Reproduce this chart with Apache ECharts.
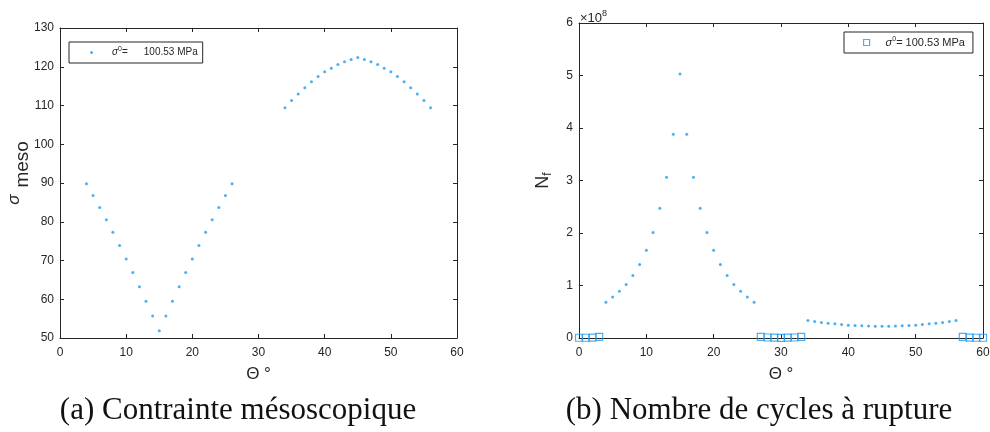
<!DOCTYPE html>
<html>
<head>
<meta charset="utf-8">
<script src="https://cdn.jsdelivr.net/npm/echarts@6/dist/echarts.min.js"></script>
<style>html,body{margin:0;padding:0;background:#fff;}#c{width:990px;height:432px;}</style>
</head>
<body>
<div id="c"></div>
<script>
// ---- data ----
const thetaTicks = [0, 10, 20, 30, 40, 50, 60];
const sigmaTicks = [50, 60, 70, 80, 90, 100, 110, 120, 130];
const nfTicks = [0, 1, 2, 3, 4, 5, 6]; // x 10^8

// (a) mesoscopic stress
const thetaA = [4,5,6,7,8,9,10,11,12,13,14,15,16,17,18,19,20,21,22,23,24,25,26];
const sigmaA = [89.8,86.8,83.7,80.5,77.3,73.9,70.4,66.9,63.2,59.5,55.7,51.9,55.7,59.5,63.2,66.9,70.4,73.9,77.3,80.5,83.7,86.8,89.8];
const thetaB = [34,35,36,37,38,39,40,41,42,43,44,45,46,47,48,49,50,51,52,53,54,55,56];
const sigmaB = [109.4,111.3,113.0,114.6,116.1,117.5,118.7,119.6,120.6,121.3,121.9,122.4,121.9,121.3,120.6,119.6,118.7,117.5,116.1,114.6,113.0,111.3,109.4];

// (b) number of cycles to failure (units of 10^8)
const nfA = [0.68,0.78,0.89,1.02,1.19,1.40,1.67,2.01,2.47,3.06,3.88,5.03,3.88,3.06,2.47,2.01,1.67,1.40,1.19,1.02,0.89,0.78,0.68];
const nfB = [0.333,0.314,0.295,0.282,0.270,0.257,0.244,0.238,0.232,0.229,0.226,0.225,0.226,0.229,0.232,0.238,0.244,0.257,0.270,0.282,0.295,0.314,0.333];
const thetaSq = [0,1,2,3,27,28,29,30,31,32,33,57,58,59,60];
const nfSq = [0.005,0.005,0.008,0.022,0.022,0.010,0.006,0.004,0.006,0.010,0.022,0.022,0.008,0.005,0.005];

const captionA = '(a) Contrainte mésoscopique';
const captionB = '(b) Nombre de cycles à rupture';

// ---- chart ----
const zip = (xs, ys) => xs.map((x, i) => [x, ys[i]]);
const ink = '#262626';
const blue = '#1e9bf0';
const sans = '"Liberation Sans", Arial, Helvetica, sans-serif';

function xAx(grid, top) {
  return {
    type: 'value', gridIndex: grid, position: top ? 'top' : 'bottom',
    min: thetaTicks[0], max: thetaTicks[thetaTicks.length - 1], interval: thetaTicks[1] - thetaTicks[0],
    axisLine: { show: true, onZero: false, lineStyle: { color: ink, width: 1 } },
    axisTick: { show: true, inside: true, length: 4, lineStyle: { color: ink } },
    axisLabel: { show: !top, color: ink, fontSize: 12, fontFamily: sans, margin: 9 },
    splitLine: { show: false },
    name: top ? '' : 'Θ °', nameLocation: 'middle', nameGap: 28,
    nameTextStyle: { color: ink, fontSize: 17, fontFamily: sans }
  };
}
function yAx(grid, right, ticks, extra) {
  const o = {
    type: 'value', gridIndex: grid, position: right ? 'right' : 'left',
    min: ticks[0], max: ticks[ticks.length - 1], interval: ticks[1] - ticks[0],
    axisLine: { show: true, onZero: false, lineStyle: { color: ink, width: 1 } },
    axisTick: { show: true, inside: true, length: 4, lineStyle: { color: ink } },
    axisLabel: { show: !right, color: ink, fontSize: 12, fontFamily: sans, margin: 6 },
    splitLine: { show: false }
  };
  return Object.assign(o, extra || {});
}

const chart = echarts.init(document.getElementById('c'), null, { renderer: 'canvas' });
function legendRich(fs, lead) {
  return {
    s: { fontStyle: 'italic', fontSize: fs, fontFamily: sans, color: ink, lineHeight: 13, padding: [0, 0, 0, lead] },
    p: { fontSize: 7, fontFamily: sans, color: ink, lineHeight: 7, padding: [0, 0, 6, 0] },
    t: { fontSize: fs, fontFamily: sans, color: ink, lineHeight: 13 },
    t2: { fontSize: fs, fontFamily: sans, color: ink, lineHeight: 13, padding: [0, 0, 0, 16] }
  };
}

chart.setOption({
  animation: false,
  backgroundColor: '#ffffff',
  grid: [
    { left: 60, top: 28, width: 397, height: 310, outerBoundsMode: 'none', containLabel: false },
    { left: 579, top: 23, width: 404, height: 315, outerBoundsMode: 'none', containLabel: false }
  ],
  xAxis: [xAx(0, false), xAx(0, true), xAx(1, false), xAx(1, true)],
  yAxis: [
    yAx(0, false, sigmaTicks, {
      name: '{s|σ}{m|meso}', nameLocation: 'middle', nameRotate: 90, nameGap: 37, nameMoveOverlap: false,
      nameTextStyle: { color: ink, rich: {
        s: { fontStyle: 'italic', fontSize: 17, fontFamily: sans, color: ink, lineHeight: 18, padding: [0, 0, 0, 20] },
        m: { fontSize: 19, fontFamily: sans, color: ink, lineHeight: 18, padding: [18, 0, 0, 7] }
      } }
    }),
    yAx(0, true, sigmaTicks),
    yAx(1, false, nfTicks, {
      name: '{a|×10}{b|8}', nameLocation: 'end', nameGap: -2, nameMoveOverlap: false,
      nameTextStyle: { align: 'left', color: ink, rich: {
        a: { fontSize: 13, fontFamily: sans, color: ink, lineHeight: 14, padding: [0, 0, 0, 1] },
        b: { fontSize: 9, fontFamily: sans, color: ink, lineHeight: 9, padding: [0, 0, 8, 0] }
      } }
    }),
    yAx(1, true, nfTicks),
    yAx(1, false, nfTicks, {
      axisLine: { show: false }, axisTick: { show: false }, axisLabel: { show: false },
      name: '{n|N}{f|f}', nameLocation: 'middle', nameRotate: 90, nameGap: 27, nameMoveOverlap: false,
      nameTextStyle: { color: ink, rich: {
        n: { fontSize: 18, fontFamily: sans, color: ink, lineHeight: 18 },
        f: { fontSize: 12, fontFamily: sans, color: ink, lineHeight: 12, padding: [10, 0, 0, 0] }
      } }
    })
  ],
  legend: [
    {
      left: 69, top: 42, orient: 'horizontal',
      data: [{ name: 'sigmaMeso', icon: 'circle' }],
      itemWidth: 3, itemHeight: 3, itemGap: 0,
      borderColor: ink, borderWidth: 1, borderRadius: 0, padding: [4, 5, 4, 21],
      formatter: () => '{s|σ}{p|0}{t|=}{t2|100.53 MPa}',
      textStyle: { rich: legendRich(10, 14) },
      selectedMode: false
    },
    {
      left: 844, top: 32, orient: 'horizontal',
      data: [{ name: 'nfZero', icon: 'rect' }],
      itemWidth: 6, itemHeight: 6, itemGap: 0,
      itemStyle: { color: '#ffffff', borderColor: blue, borderWidth: 1.2 },
      borderColor: ink, borderWidth: 1, borderRadius: 0, padding: [4, 8, 4, 19],
      formatter: () => '{s|σ}{p|0}{t|= 100.53 MPa}',
      textStyle: { rich: legendRich(11, 11) },
      selectedMode: false
    }
  ],
  series: [
    { name: 'sigmaMeso', type: 'scatter', xAxisIndex: 0, yAxisIndex: 0, symbol: 'circle', symbolSize: 3,
      itemStyle: { color: blue }, data: zip(thetaA, sigmaA).concat(zip(thetaB, sigmaB)) },
    { name: 'nfZero', type: 'scatter', xAxisIndex: 2, yAxisIndex: 2, symbol: 'rect', symbolSize: 7,
      itemStyle: { color: 'rgba(255,255,255,0)', borderColor: blue, borderWidth: 1.2 }, data: zip(thetaSq, nfSq) },
    { name: 'nfDots', type: 'scatter', xAxisIndex: 2, yAxisIndex: 2, symbol: 'circle', symbolSize: 3,
      itemStyle: { color: blue }, data: zip(thetaA, nfA).concat(zip(thetaB, nfB)) }
  ],
  graphic: [
    { type: 'text', x: 238, y: 411, style: { text: captionA, font: '31px "Liberation Serif", "Times New Roman", serif', fill: '#111', textAlign: 'center', textVerticalAlign: 'middle' } },
    { type: 'text', x: 759, y: 411, style: { text: captionB, font: '31px "Liberation Serif", "Times New Roman", serif', fill: '#111', textAlign: 'center', textVerticalAlign: 'middle' } }
  ]
});
</script>
</body>
</html>
